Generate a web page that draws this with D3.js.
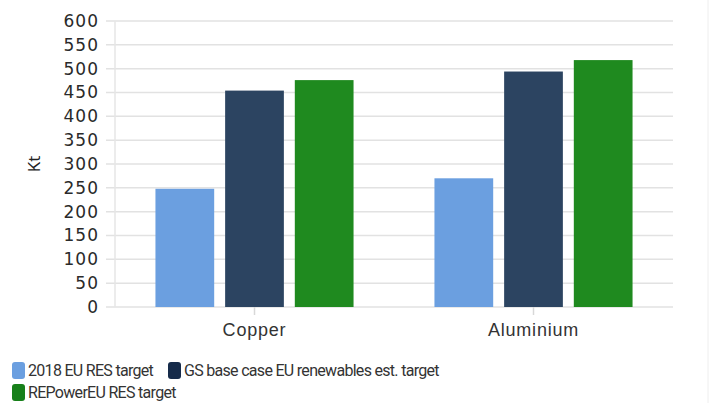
<!DOCTYPE html>
<html>
<head>
<meta charset="utf-8">
<script src="https://cdn.jsdelivr.net/npm/d3@7"></script>
<style>
  html, body { margin: 0; padding: 0; background: #fff; }
  svg { display: block; font-family: "Open Sans", "Noto Sans", sans-serif; }
</style>
</head>
<body>
<svg id="chart" width="714" height="403"></svg>
<script>
// Metals demand by EU renewables target scenario (Kt)
const categories = ['Copper', 'Aluminium'];
const seriesNames = ['2018 EU RES target', 'GS base case EU renewables est. target', 'REPowerEU RES target'];
const series2018 = [248, 270];
const seriesGS = [454, 494];
const seriesREPower = [476, 518];
const yTicks = [0, 50, 100, 150, 200, 250, 300, 350, 400, 450, 500, 550, 600];

const COLORS = ['#6b9fe0', '#2c4461', '#1f8a1f'];
const LEGEND_COLORS = ['#6b9fe0', '#162b4a', '#17801a'];

const MARGIN = { top: 21, right: 41, bottom: 96, left: 115 };
const W = 714, H = 403;
const WIDTH = W - MARGIN.left - MARGIN.right;
const HEIGHT = H - MARGIN.top - MARGIN.bottom;

const data = categories.map((c, i) => ({
    cat: c,
    values: [series2018[i], seriesGS[i], seriesREPower[i]]
}));

const svg = d3.select('#chart');
const g = svg.append('g').attr('transform', `translate(${MARGIN.left},${MARGIN.top})`);

// --- Scales ---
const x = d3.scaleBand().domain(categories).range([0, WIDTH])
    .paddingInner(0.29).paddingOuter(0.145);
const xSub = d3.scaleBand().domain(d3.range(seriesNames.length)).range([0, x.bandwidth()])
    .paddingInner(0.157);
const y = d3.scaleLinear().domain([0, 600]).range([HEIGHT, 0]);

// Grid lines (extend left past the axis like tick marks)
g.append('g')
    .selectAll('line')
    .data(yTicks)
    .join('line')
    .attr('x1', -9).attr('x2', WIDTH)
    .attr('y1', d => y(d)).attr('y2', d => y(d))
    .attr('stroke', '#e2e2e2')
    .attr('stroke-width', 1.5);

// Vertical axis line
g.append('line')
    .attr('x1', 0).attr('x2', 0)
    .attr('y1', 0).attr('y2', HEIGHT)
    .attr('stroke', '#e6e6e6')
    .attr('stroke-width', 1.5);

// Bars
const groups = g.selectAll('g.cat')
    .data(data)
    .join('g')
    .attr('class', 'cat')
    .attr('transform', d => `translate(${x(d.cat)},0)`);

groups.selectAll('rect')
    .data(d => d.values.map((v, i) => ({ v, i })))
    .join('rect')
    .attr('x', d => xSub(d.i))
    .attr('y', d => y(d.v))
    .attr('width', xSub.bandwidth())
    .attr('height', d => HEIGHT - y(d.v))
    .attr('fill', d => COLORS[d.i]);

// Y axis labels
g.append('g')
    .call(d3.axisLeft(y).tickValues(yTicks).tickSize(0).tickPadding(16))
    .call(a => a.select('.domain').remove())
    .selectAll('text')
    .style('font-family', '"DejaVu Sans", sans-serif')
    .style('fill', '#2a2a2a')
    .style('font-size', '17px')
    .style('letter-spacing', '1px');

// X axis
const xAxis = g.append('g')
    .attr('transform', `translate(0,${HEIGHT})`)
    .call(d3.axisBottom(x).tickSize(8).tickPadding(8))
    .call(a => a.select('.domain').remove());
xAxis.selectAll('.tick line').attr('stroke', '#d8d8d8').attr('stroke-width', 1.5);
xAxis.selectAll('text')
    .style('fill', '#333')
    .style('font-size', '18px')
    .style('letter-spacing', '0.8px');

// Y axis title
svg.append('text')
    .attr('transform', `translate(40,${MARGIN.top + HEIGHT * 0.5}) rotate(-90)`)
    .attr('text-anchor', 'middle')
    .style('fill', '#222')
    .style('font-size', '17px')
    .text('Kt');

// Right border line
svg.append('line')
    .attr('x1', 708).attr('x2', 708).attr('y1', 0).attr('y2', H)
    .attr('stroke', '#eeeeee').attr('stroke-width', 1);

// Legend
const legendPos = [[12, 370], [168, 370], [12, 392]];
const legend = svg.append('g')
    .selectAll('g')
    .data(seriesNames)
    .join('g')
    .attr('transform', (d, i) => `translate(${legendPos[i][0]},${legendPos[i][1]})`);

legend.append('rect')
    .attr('x', 0).attr('y', -8)
    .attr('width', 13).attr('height', 17)
    .attr('rx', 3)
    .attr('fill', (d, i) => LEGEND_COLORS[i]);

legend.append('text')
    .attr('x', 16).attr('y', 0)
    .attr('dy', '0.35em')
    .style('font-family', 'Roboto, sans-serif')
    .style('fill', '#333')
    .style('font-size', '16px')
    .style('letter-spacing', '-0.7px')
    .text(d => d);
</script>
</body>
</html>
